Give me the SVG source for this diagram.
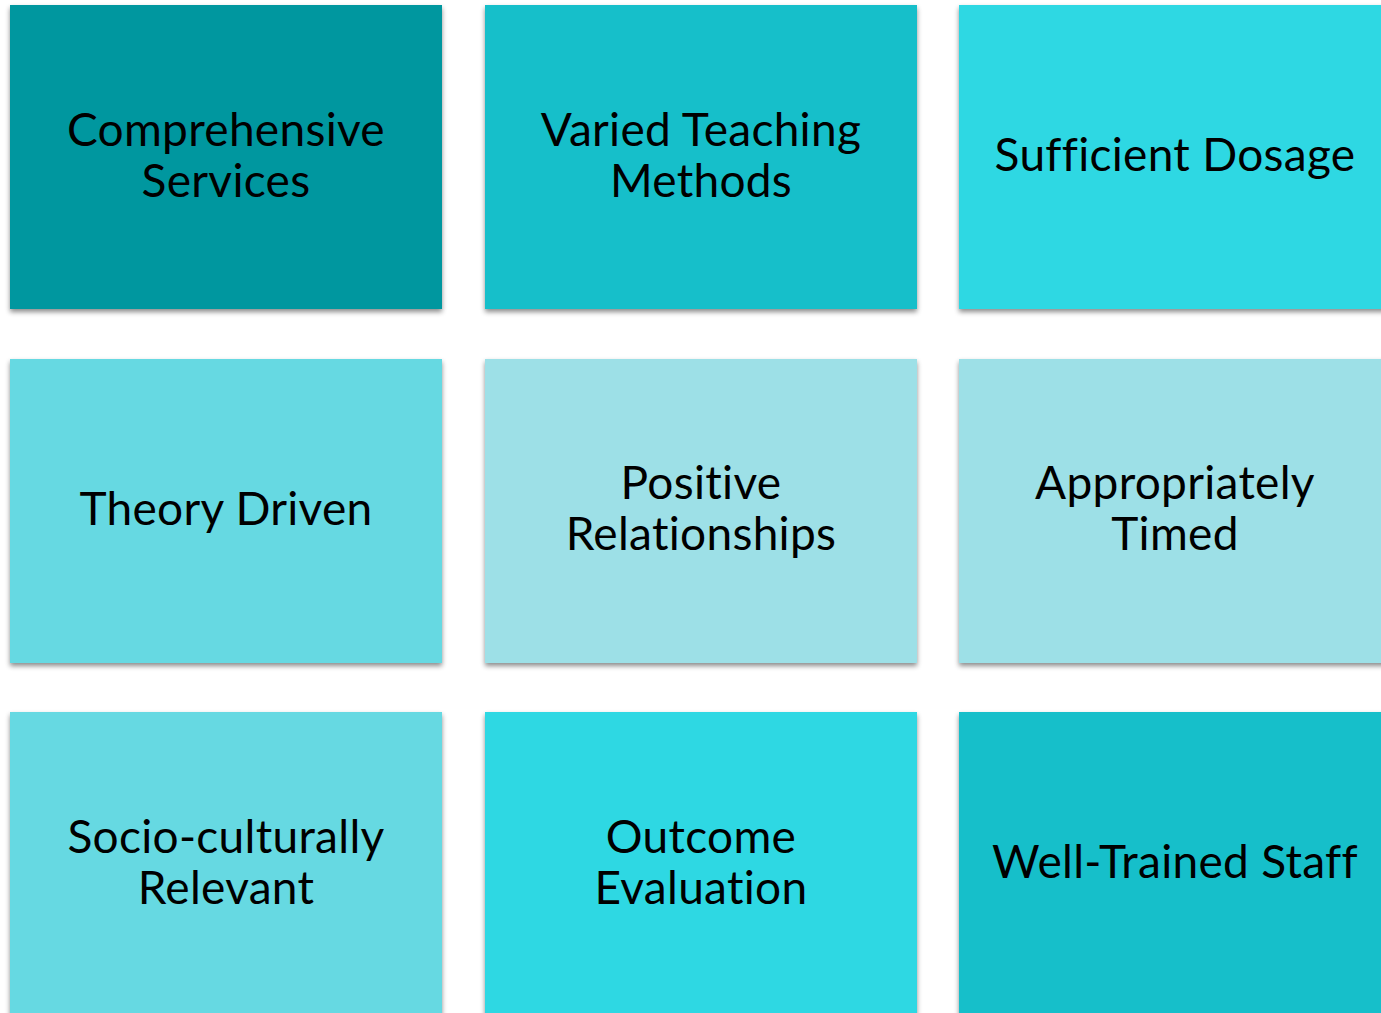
<svg xmlns="http://www.w3.org/2000/svg" width="1381" height="1013" viewBox="0 0 1381 1013">
<defs>
<filter id="sh" x="-5%" y="-5%" width="110%" height="115%">
<feDropShadow dx="0" dy="3" stdDeviation="2.5" flood-color="#000" flood-opacity="0.45"/>
</filter>
<style>
.t{filter:url(#sh)}
text{font-family:Lato,"Liberation Sans",sans-serif;font-size:46px;letter-spacing:0.3px;fill:#000;text-anchor:middle}
.c1{fill:#06979f}.c2{fill:#12bfca}.c3{fill:#2fd8e3}.c4{fill:#66d9e2}.c5{fill:#9de0e7}
</style>
</defs>
<rect width="1381" height="1013" fill="#fff"/>
<g id="n1"><rect class="t c1" x="10" y="5" width="432" height="304"/><text x="226" y="146">Comprehensive</text><text x="226" y="197">Services</text></g>
<g id="n2"><rect class="t c2" x="485" y="5" width="432" height="304"/><text x="701" y="146">Varied Teaching</text><text x="701" y="197">Methods</text></g>
<g id="n3"><rect class="t c3" x="959" y="5" width="432" height="304"/><text x="1175" y="171">Sufficient Dosage</text></g>
<g id="n4"><rect class="t c4" x="10" y="359" width="432" height="304"/><text x="226" y="525">Theory Driven</text></g>
<g id="n5"><rect class="t c5" x="485" y="359" width="432" height="304"/><text x="701" y="499">Positive</text><text x="701" y="550">Relationships</text></g>
<g id="n6"><rect class="t c5" x="959" y="359" width="432" height="304"/><text x="1175" y="499">Appropriately</text><text x="1175" y="550">Timed</text></g>
<g id="n7"><rect class="t c4" x="10" y="712" width="432" height="320"/><text x="226" y="853">Socio-culturally</text><text x="226" y="904">Relevant</text></g>
<g id="n8"><rect class="t c3" x="485" y="712" width="432" height="320"/><text x="701" y="853">Outcome</text><text x="701" y="904">Evaluation</text></g>
<g id="n9"><rect class="t c2" x="959" y="712" width="432" height="320"/><text x="1175" y="878">Well-Trained Staff</text></g>
<g id="connectors"/>
</svg>
